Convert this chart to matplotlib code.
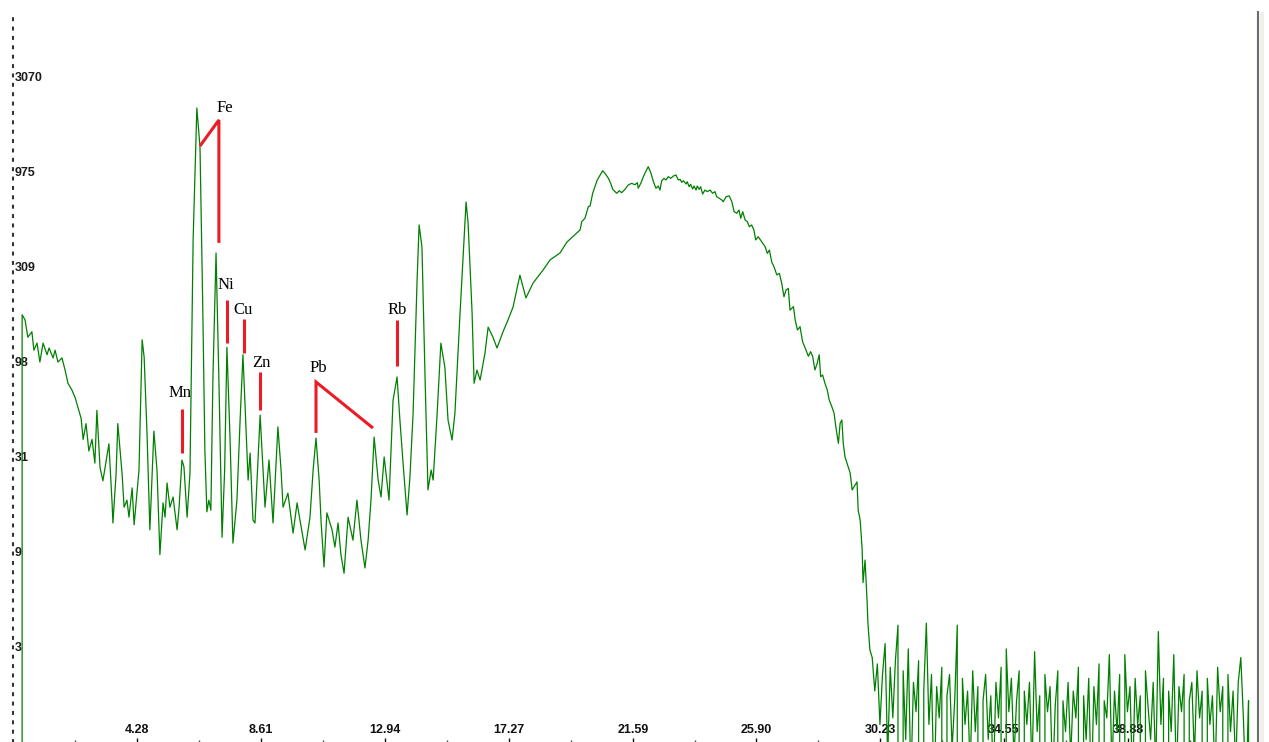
"""
XRF spectrum with element markers, log count axis.
"""

import numpy as np
import matplotlib
matplotlib.use("Agg")
import matplotlib.pyplot as plt
from matplotlib.patches import Rectangle
from matplotlib.ticker import NullLocator

# Spectrum vertices up to the end of the scatter hump (energy in keV, counts)
energy_kev = [
    0.23, 0.27, 0.37, 0.47, 0.61, 0.68, 0.79, 0.89, 1.00, 1.14,
    1.21, 1.35, 1.42, 1.52, 1.66, 1.77, 1.87, 2.01, 2.12, 2.22,
    2.33, 2.40, 2.50, 2.60, 2.71, 2.81, 2.88, 2.99, 3.09, 3.23,
    3.30, 3.41, 3.44, 3.55, 3.61, 3.76, 3.83, 3.93, 4.00, 4.11,
    4.18, 4.28, 4.35, 4.46, 4.53, 4.63, 4.73, 4.84, 4.87, 4.98,
    5.08, 5.19, 5.26, 5.33, 5.43, 5.54, 5.68, 5.75, 5.85, 5.92,
    6.03, 6.13, 6.24, 6.37, 6.48, 6.58, 6.65, 6.72, 6.79, 6.86,
    6.93, 7.04, 7.14, 7.25, 7.34, 7.42, 7.53, 7.63, 7.77, 7.88,
    7.98, 8.09, 8.16, 8.23, 8.33, 8.40, 8.58, 8.68, 8.75, 8.89,
    9.03, 9.20, 9.31, 9.38, 9.55, 9.73, 9.87, 9.97, 10.15, 10.32,
    10.43, 10.53, 10.64, 10.71, 10.81, 10.91, 11.09, 11.19, 11.30, 11.40,
    11.51, 11.65, 11.82, 11.96, 12.10, 12.24, 12.35, 12.45, 12.56, 12.70,
    12.80, 12.91, 13.08, 13.22, 13.36, 13.46, 13.57, 13.71, 13.81, 13.92,
    14.06, 14.13, 14.23, 14.34, 14.44, 14.55, 14.62, 14.76, 14.89, 15.03,
    15.14, 15.28, 15.38, 15.56, 15.77, 15.84, 15.98, 16.05, 16.15, 16.26,
    16.43, 16.54, 16.71, 16.85, 17.06, 17.23, 17.41, 17.65, 17.86, 18.11,
    18.46, 18.70, 19.05, 19.29,
    # scatter hump
    19.75, 19.81, 19.92, 20.04, 20.10, 20.19, 20.27, 20.35, 20.45, 20.54,
    20.62, 20.74, 20.82, 20.89, 20.97, 21.03, 21.12, 21.20, 21.32, 21.43,
    21.55, 21.67, 21.75, 21.78, 21.87, 21.96, 22.04, 22.13, 22.22, 22.31,
    22.40, 22.48, 22.54, 22.60, 22.68, 22.75, 22.83, 22.92, 23.01, 23.10,
    23.18, 23.24, 23.30, 23.36, 23.45, 23.49, 23.56, 23.61, 23.68, 23.73,
    23.80, 23.84, 23.91, 23.96, 24.03, 24.11, 24.19, 24.29, 24.38, 24.46,
    24.52, 24.61, 24.70, 24.75, 24.85, 24.96, 25.05, 25.13, 25.22, 25.30,
    25.36, 25.43, 25.51, 25.59, 25.66, 25.74, 25.82, 25.88, 25.97, 26.09,
    26.21, 26.29, 26.36, 26.44, 26.52, 26.62, 26.71, 26.79, 26.87, 26.94,
    27.02, 27.08, 27.20, 27.26, 27.34, 27.43, 27.52, 27.64, 27.72, 27.80,
    27.87, 27.95, 28.03, 28.10, 28.15, 28.22, 28.30, 28.38, 28.45, 28.54,
    28.62, 28.68, 28.77, 28.83, 28.89, 28.94,
    # fall-off at the end of the hump
    29.00, 29.18, 29.25, 29.42, 29.46, 29.53, 29.60, 29.63, 29.70, 29.77,
    29.80, 29.87,
]
counts = [
    0, 172, 162, 131, 140, 112, 122, 97, 122, 106,
    115, 102, 112, 97, 102, 88, 75, 69, 63, 56,
    49, 38, 46, 33, 38, 28.5, 54, 27, 23, 31,
    36, 17.6, 13.8, 25, 46, 25, 16.7, 18.2, 14.8, 21.1,
    13.5, 19.8, 26.2, 127, 103, 41, 12.7, 32, 42, 26,
    9.4, 17.6, 14.8, 22.4, 16.7, 18.9, 12.7, 16.7, 29.6, 27.2,
    14.8, 25.3, 426, 2108, 1314, 176, 33.4, 15.8, 18.2, 16.1,
    78, 364, 78, 11.6, 26, 116, 38, 10.8, 18.2, 48,
    106, 42.6, 23.2, 32.2, 14.3, 13.8, 51, 26.2, 16.7, 29.6,
    13.8, 44.2, 26.2, 16.7, 19.8, 12.2, 17.6, 14.3, 9.95, 14.8,
    26.2, 38.6, 23.2, 13.8, 8.1, 15.6, 12.7, 10.3, 13.8, 9.4,
    7.5, 14.8, 11.2, 18.2, 11.2, 8.0, 11.2, 18.2, 39.1, 23.2,
    18.9, 30.7, 18.2, 61, 81, 48, 28.5, 15.2, 24.1, 52,
    262, 511, 391, 78, 20.6, 26.2, 23.2, 52, 122, 91,
    48, 37.7, 52, 176, 675, 523, 176, 75, 88, 78,
    108, 148, 131, 115, 140, 161, 189, 278, 211, 253,
    296, 334, 364, 415,
    # scatter hump
    481, 532, 554, 638, 643, 750, 812, 881, 936, 986,
    955, 899, 846, 787, 765, 750, 774, 755, 787, 829,
    846, 832, 853, 797, 846, 917, 974, 1035, 963, 863,
    797, 819, 780, 873, 899, 881, 917, 899, 925, 936,
    881, 888, 857, 873, 839, 863, 812, 836, 790, 819,
    780, 819, 787, 812, 743, 780, 765, 780, 750, 765,
    720, 706, 691, 677, 720, 726, 677, 600, 589, 612,
    554, 600, 543, 532, 500, 511, 481, 426, 443, 417,
    393, 362, 377, 327, 308, 279, 284, 252, 214, 232,
    237, 182, 190, 162, 143, 149, 124, 112, 104, 110,
    104, 88.1, 95.5, 106, 81.2, 82.9, 75.0, 69.1, 61.2, 56.5,
    52.1, 44.3, 36.2, 46.2, 48.1, 36.2,
    # fall-off at the end of the hump
    30.7, 25.3, 20.6, 22.7, 16.1, 14.3, 9.95, 6.7, 8.8, 5.4,
    4.1, 2.96,
]

# Low-count tail above the hump, one value per display channel
tail_start_kev = 29.95
tail_step_kev = 0.09
tail_counts = [
    2.7, 1.8, 2.5, 1.2, 2.2, 3.2, 0.8, 2.4, 1.3, 2.6,
    4.0, 0, 2.3, 1.0, 3.0, 0.6, 2.0, 1.4, 2.6, 0,
    1.8, 4.1, 1.2, 2.2, 0.5, 1.9, 1.3, 2.4, 0, 1.7,
    2.2, 0.9, 1.6, 4.0, 0, 2.1, 1.2, 1.8, 0.7, 2.3,
    1.1, 1.9, 0, 1.6, 2.2, 1.0, 1.7, 0.6, 2.0, 1.3,
    2.4, 0, 3.0, 1.4, 2.1, 0.8, 1.6, 2.3, 0, 1.8,
    1.2, 2.0, 0.7, 2.9, 1.1, 1.7, 0, 2.2, 1.4, 1.9,
    0.6, 1.5, 2.3, 0, 1.6, 1.1, 2.0, 0.8, 1.8, 1.3,
    2.4, 0, 1.7, 1.0, 2.1, 0.5, 1.9, 1.2, 2.5, 0,
    1.6, 1.3, 2.8, 0.7, 1.8, 1.1, 2.2, 0, 2.8, 1.4,
    1.9, 0.6, 2.1, 1.2, 1.7, 0, 2.3, 1.5, 1.0, 2.0,
    0.7, 3.7, 1.2, 2.1, 0, 1.8, 1.1, 2.8, 0.6, 1.9,
    1.4, 2.2, 0, 1.6, 2.0, 0.8, 2.3, 1.3, 1.8, 0,
    2.1, 1.2, 1.7, 0.6, 2.4, 1.4, 1.9, 0, 2.2, 1.1,
    1.8, 0.7, 2.0, 2.7, 1.3, 0.5, 1.6, 0,
]

# Element markers: label position and red marker line vertices
marker_labels = ["Mn", "Fe", "Ni", "Cu", "Zn", "Pb", "Rb"]
label_kev = [5.78, 7.36, 7.39, 7.98, 8.61, 10.60, 13.36]
label_counts = [66.7, 2108, 247, 182, 96, 90, 182]
marker_line_kev = [
    [5.85, 5.85],
    [6.48, 7.14, 7.14],
    [7.42, 7.42],
    [8.02, 8.02],
    [8.58, 8.58],
    [12.52, 10.53, 10.53],
    [13.36, 13.36],
]
marker_line_counts = [
    [54.9, 32.2],
    [1330, 1823, 411],
    [206, 122],
    [163, 108],
    [86, 54.3],
    [43.6, 76.2, 41.1],
    [161, 92.5],
]

x_ticks = [4.28, 8.61, 12.94, 17.27, 21.59, 25.90, 30.23, 34.55, 38.88]
x_tick_labels = ["4.28", "8.61", "12.94", "17.27", "21.59", "25.90",
                 "30.23", "34.55", "38.88"]
x_minor_ticks = [2.12, 6.45, 10.78, 15.11, 19.43, 23.75, 28.07, 32.39,
                 36.72, 41.05]
y_ticks = [3070, 975, 309, 98, 31, 9.75, 3.09]
y_tick_labels = ["3070", "975", "309", "98", "31", "9", "3"]

assert len(energy_kev) == len(counts)

plt.rcParams["font.family"] = ["Liberation Sans", "DejaVu Sans"]

W, H = 1269, 742
fig = plt.figure(figsize=(W / 100, H / 100), dpi=100)
ax = fig.add_axes([13 / W, 0, 1245 / W, 730 / H])

# Spectrum trace
tail_kev = tail_start_kev + tail_step_kev * np.arange(len(tail_counts))
ax.plot(energy_kev + list(tail_kev), counts + tail_counts,
        color="#008000", lw=0.9, zorder=2)

# Element markers
for lbl, lx, ly, mx, my in zip(marker_labels, label_kev, label_counts,
                               marker_line_kev, marker_line_counts):
    ax.plot(mx, my, color="#ec1c24", lw=2.2, solid_capstyle="butt",
            solid_joinstyle="miter", zorder=3)
    ax.text(lx, ly, lbl, ha="center", va="center", fontsize=12,
            family="Liberation Serif", color="black", zorder=4)

ax.set_yscale("log")
ax.set_xlim(-0.049, 43.42)
ax.set_ylim(0.9705, 6748)

# Axes decoration
ax.set_axisbelow(True)
ax.set_xticks(x_ticks, labels=x_tick_labels)
ax.set_xticks(x_minor_ticks, minor=True)
ax.set_yticks(y_ticks, labels=y_tick_labels)
ax.yaxis.set_minor_locator(NullLocator())
ax.tick_params(axis="x", which="major", direction="in", length=3, width=1,
               pad=-13, labelsize=9, colors="#111111")
ax.tick_params(axis="x", which="minor", direction="in", length=1.5, width=1,
               colors="#444444")
ax.tick_params(axis="y", which="major", length=0, pad=-1.5, labelsize=9,
               labelcolor="#1c1c1c")
for t in ax.get_xticklabels() + ax.get_yticklabels():
    t.set_fontweight("bold")
plt.setp(ax.get_yticklabels(), ha="left")

ax.spines["top"].set_visible(False)
ax.spines["bottom"].set_visible(False)
ax.spines["left"].set_linestyle((0, (0.9, 3.6)))
ax.spines["left"].set_linewidth(1.5)
ax.spines["left"].set_color("#333333")
ax.spines["right"].set_color("#6b6b6b")
ax.spines["right"].set_linewidth(1.5)

# window border strip on the right
fig.add_artist(Rectangle((1260 / W, 0), 4 / W, 730 / H,
                         transform=fig.transFigure, color="#f0efe8", lw=0))

fig.savefig("out.png", dpi=100)
